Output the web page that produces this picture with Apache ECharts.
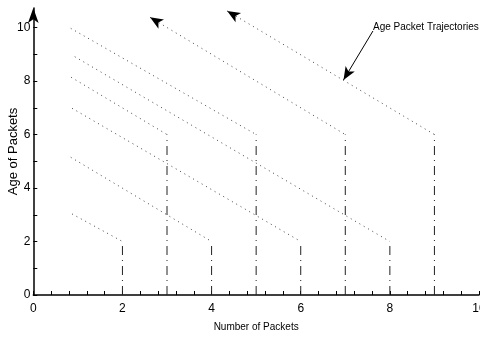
<!DOCTYPE html>
<html>
<head>
<meta charset="utf-8">
<script src="https://cdn.jsdelivr.net/npm/echarts@6/dist/echarts.min.js"></script>
<style>html,body{margin:0;padding:0;background:#fff;}#c{width:480px;height:337px;}</style>
</head>
<body>
<div id="c"></div>
<script>
// tick labels
const xTickLabels = [0, 2, 4, 6, 8, 10];
const yTickLabels = [0, 2, 4, 6, 8, 10];
const xMinorTicks = [0,0.4,0.8,1.2,1.6,2,2.4,2.8,3.2,3.6,4,4.4,4.8,5.2,5.6,6,6.4,6.8,7.2,7.6,8,8.4,8.8,9.2,9.6,10];
const yMinorTicks = [0,1,2,3,4,5,6,7,8,9,10];

// vertical dash-dot bars (packet arrivals)
const barX   = [2, 3, 4, 5, 6, 7, 8, 9];
const barTop = [2, 6, 2, 6, 2, 6, 2, 6];

// age packet trajectories (dotted)
const trajStartX = [0.87, 0.84, 0.87, 0.93, 0.85, 0.84, 2.62, 4.35];
const trajStartY = [3.03, 5.15, 6.98, 8.91, 8.14, 9.97, 10.38, 10.62];
const trajEndX   = [2, 4, 6, 8, 3, 5, 7, 9];
const trajEndY   = [2, 2, 2, 2, 6, 6, 6, 6];
const trajArrow  = [false, false, false, false, false, false, true, true];

// annotation
const annoText = 'Age Packet Trajectories';
const annoFrom = [7.62, 9.87];
const annoTo   = [6.96, 8.04];

const FONT = '"Liberation Sans", Arial, sans-serif';

const series = [];
barX.forEach((x, i) => {
  series.push({
    type: 'line', silent: true, symbol: 'none', animation: false,
    data: [[x, 0], [x, barTop[i]]],
    lineStyle: { color: '#222', width: 1, type: [9, 5, 1, 5] }
  });
});
trajStartX.forEach((x, i) => {
  const first = trajArrow[i]
    ? { value: [x, trajStartY[i]], symbol: 'arrow', symbolSize: [8, 13], symbolRotate: 59 }
    : { value: [x, trajStartY[i]] };
  series.push({
    type: 'line', silent: true, animation: false,
    symbol: 'none', showSymbol: true,
    data: [first, [trajEndX[i], trajEndY[i]]],
    itemStyle: { color: '#000' },
    lineStyle: { color: '#444', width: 1, type: [1, 4] }
  });
});
series.push({
  type: 'line', silent: true, animation: false, symbol: 'none',
  data: [],
  markLine: {
    silent: true, animation: false,
    symbol: ['none', 'arrow'], symbolSize: [8, 13],
    label: { show: false },
    lineStyle: { color: '#000', width: 1, type: 'solid' },
    data: [[{ coord: annoFrom }, { coord: annoTo }]]
  }
});

const chart = echarts.init(document.getElementById('c'), null, { renderer: 'canvas' });
chart.setOption({
  animation: false,
  backgroundColor: '#fff',
  grid: { left: 33.3, right: 1, top: 8, bottom: 42, containLabel: false, outerBoundsMode: 'none' },
  xAxis: {
    type: 'value', min: 0, max: 10, interval: 2,
    name: 'Number of Packets', nameLocation: 'middle', nameGap: 27, nameMoveOverlap: false,
    nameTextStyle: { fontFamily: FONT, fontSize: 10, color: '#000' },
    axisLine: { lineStyle: { color: '#000', width: 1.5 } },
    axisTick: { inside: true, length: 4, lineStyle: { color: '#000' }, customValues: xMinorTicks },
    axisLabel: { customValues: xTickLabels, fontFamily: FONT, fontSize: 12, color: '#000', margin: 8 },
    splitLine: { show: false }
  },
  yAxis: {
    type: 'value', min: 0, max: 10.73,
    name: 'Age of Packets', nameLocation: 'middle', nameGap: 13, nameMoveOverlap: false,
    nameTextStyle: { fontFamily: FONT, fontSize: 13, color: '#000' },
    axisLine: { lineStyle: { color: '#000', width: 1.5 }, symbol: ['none', 'arrow'], symbolSize: [8, 15] },
    axisTick: { inside: true, length: 4, lineStyle: { color: '#000' }, customValues: yMinorTicks },
    axisLabel: { customValues: yTickLabels, fontFamily: FONT, fontSize: 12, color: '#000', margin: 3 },
    splitLine: { show: false }
  },
  graphic: [{
    type: 'text', left: 373, top: 22,
    style: { text: annoText, font: '10px ' + FONT, fill: '#000' }
  }],
  series: series
});
</script>
</body>
</html>
